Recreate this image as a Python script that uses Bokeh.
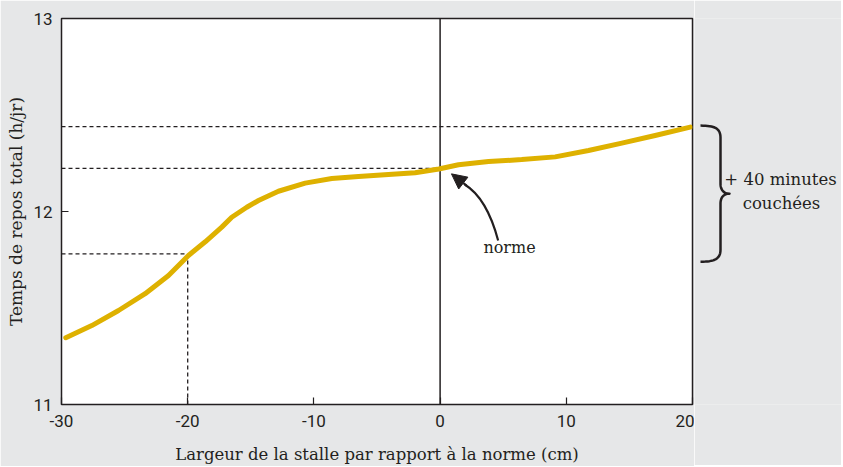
import numpy as np
from bokeh.plotting import figure
from bokeh.layouts import row
from bokeh.models import FixedTicker, Label, Arrow, NormalHead, Range1d
from bokeh.embed import file_html
from bokeh.resources import INLINE

# ---- data ----
width_cm = [-29.66, -27.6, -25.48, -23.37, -21.52, -19.94, -18.61, -17.3, -16.51, -15.32,
            -14.39, -12.81, -10.69, -8.58, -6.47, -4.09, -1.98, -0.1, 1.46, 3.84,
            6.47, 9.12, 11.76, 14.4, 17.04, 19.82]
rest_h = [11.346, 11.409, 11.487, 11.574, 11.668, 11.772, 11.843, 11.919, 11.97, 12.022,
          12.057, 12.105, 12.147, 12.171, 12.181, 12.192, 12.201, 12.22, 12.242, 12.259,
          12.269, 12.283, 12.316, 12.354, 12.394, 12.437]

x_ticks = [-30, -20, -10, 0, 10, 20]
y_ticks = [11, 12, 13]
x_start, x_end = -30, 20
y_start, y_end = 11, 13

norm_x = 0
ref_x = [-20, 0, 20]          # where the dashed guides end
ref_y = [11.78, 12.223, 12.44]

brace_top, brace_bottom = 12.445, 11.74
brace_text = ["+ 40 minutes", "couchées"]
norm_text = "norme"
xlabel = "Largeur de la stalle par rapport à la norme (cm)"
ylabel = "Temps de repos total (h/jr)"

# ---- style ----
BG = "#e6e7e8"
INK = "#231f20"
GOLD = "#deb100"
SERIF = "DejaVu Serif"
SANS = "Roboto"

FW, FH = 631, 386
TOP, BOTTOM = 18, 61
LEFT = 61
yr = Range1d(y_start, y_end)

p = figure(frame_width=FW, frame_height=FH,
           x_range=Range1d(x_start, x_end), y_range=yr,
           output_backend="svg", toolbar_location=None,
           min_border_left=LEFT, min_border_right=2, min_border_top=TOP, min_border_bottom=BOTTOM)
p.border_fill_color = BG
p.background_fill_color = "white"
p.outline_line_color = INK
p.outline_line_width = 1.5
p.outline_line_alpha = 1.0
p.grid.visible = False

for ax in (p.xaxis[0], p.yaxis[0]):
    ax.axis_line_color = None
    ax.major_tick_in = 7
    ax.major_tick_out = 0
    ax.major_tick_line_color = INK
    ax.major_tick_line_width = 1.2
    ax.minor_tick_line_color = None
    ax.major_label_text_font = SANS
    ax.major_label_text_font_size = "17px"
    ax.major_label_text_color = INK
    ax.axis_label_text_font = SERIF
    ax.axis_label_text_font_size = "16.5px"
    ax.axis_label_text_font_style = "normal"
    ax.axis_label_text_color = INK

p.xaxis.ticker = FixedTicker(ticks=x_ticks)
p.yaxis.ticker = FixedTicker(ticks=y_ticks)
p.xaxis.major_label_overrides = {t: str(t) for t in x_ticks}
p.yaxis.major_label_overrides = {t: str(t) for t in y_ticks}
p.xaxis.axis_label = xlabel
p.yaxis.axis_label = ylabel
p.yaxis.axis_label_text_font_size = "17px"
p.xaxis.major_label_standoff = 10
p.xaxis.axis_label_standoff = 15
p.yaxis.major_label_standoff = 9
p.yaxis.axis_label_standoff = 4

# dashed guides
hx = [[x_start, rx] for rx in ref_x]
hy = [[ry, ry] for ry in ref_y]
p.multi_line(hx + [[ref_x[0], ref_x[0]]], hy + [[y_start, ref_y[0]]],
             line_color=INK, line_width=1.3, line_dash="4 3")

# norm line
p.line([norm_x, norm_x], [y_start, y_end], line_color=INK, line_width=1.5)

# curve
p.line(width_cm, rest_h, line_color=GOLD, line_width=5, line_join="round", line_cap="round")

# arrow to the norm
arrow_start = (4.6, 11.85)
arrow_ctrl = (3.7, 12.07)
arrow_end = (1.95, 12.14)
arrow_tip = (0.9, 12.195)
p.quadratic(x0=[arrow_start[0]], y0=[arrow_start[1]], x1=[arrow_end[0]], y1=[arrow_end[1]],
            cx=[arrow_ctrl[0]], cy=[arrow_ctrl[1]], line_color=INK, line_width=2.2)
p.add_layout(Arrow(end=NormalHead(size=15, fill_color=INK, line_color=INK, line_width=1),
                   x_start=arrow_end[0] + 0.15, y_start=arrow_end[1] - 0.006,
                   x_end=arrow_tip[0], y_end=arrow_tip[1], line_color=INK, line_width=2))
p.add_layout(Label(x=5.5, y=11.815, text=norm_text, text_align="center", text_baseline="middle",
                   text_font=SERIF, text_font_size="16px", text_color=INK))

# ---- right-hand panel with the brace ----
SW = 147
q = figure(frame_width=SW, frame_height=FH, x_range=Range1d(0, SW), y_range=yr,
           output_backend="svg", toolbar_location=None,
           min_border_left=0, min_border_right=0, min_border_top=TOP, min_border_bottom=BOTTOM)
q.axis.visible = False
q.grid.visible = False
q.outline_line_color = None
q.border_fill_color = BG
q.background_fill_color = BG

px_y = FH / (y_end - y_start)
H = (brace_top - brace_bottom) * px_y
mid = H / 2.0


def cubic(p0, p1, p2, p3, n=16):
    t = np.linspace(0, 1, n)[:, None]
    P = [np.array(c, dtype=float) for c in (p0, p1, p2, p3)]
    return ((1 - t) ** 3) * P[0] + 3 * ((1 - t) ** 2) * t * P[1] + 3 * (1 - t) * t ** 2 * P[2] + t ** 3 * P[3]


upper = np.vstack([
    cubic((0, 0), (13, 0), (20, 2), (20, 12)),
    cubic((20, 12), (20, 30), (20, mid - 30), (20, mid - 10), n=4),
    cubic((20, mid - 10), (20, mid - 4), (23, mid), (29, mid)),
])
lower = upper[::-1].copy()
lower[:, 1] = H - lower[:, 1]
path = np.vstack([upper, lower])
bx = 6 + path[:, 0]
by = brace_top - path[:, 1] / px_y
q.line(bx, by, line_color=INK, line_width=2.5, line_join="round", line_cap="butt")

q.text(x=[86], y=[12.166], text=[brace_text[0]], text_align="center", text_baseline="middle",
       text_font={"value": SERIF}, text_font_size="16.5px", text_color=INK)
q.text(x=[87], y=[12.041], text=[brace_text[1]], text_align="center", text_baseline="middle",
       text_font={"value": SERIF}, text_font_size="16.5px", text_color=INK)

layout = row(p, q)
open("out.html", "w").write(file_html(layout, INLINE))
